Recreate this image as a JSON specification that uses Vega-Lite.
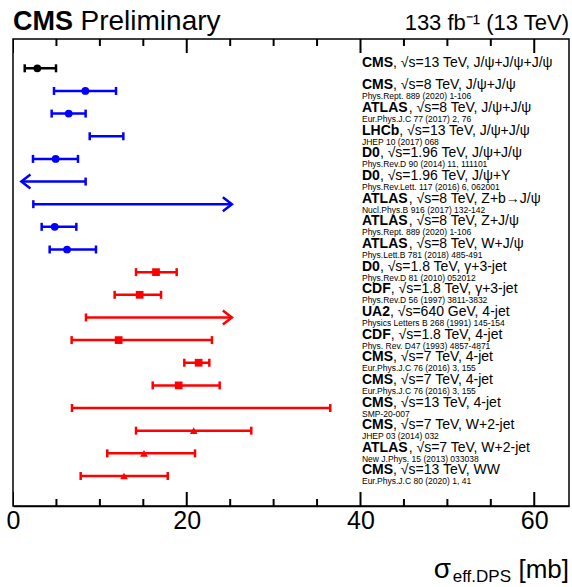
{
  "$schema": "https://vega.github.io/schema/vega-lite/v6.json",
  "width": 556,
  "height": 467,
  "autosize": {"type": "none"},
  "padding": {"left": 13, "top": 39, "right": 3, "bottom": 81},
  "background": "white",
  "config": {"view": {"stroke": "black", "strokeWidth": 1.5}, "font": "Liberation Sans"},
  "datasets": {
    "m": [
      {"row": 1, "name": "CMS", "rest": ", √s=13 TeV, J/ψ+J/ψ+J/ψ", "ref": "", "cat": "triple", "val": 2.8, "lo": 1.35, "hi": 4.95, "limit": ""},
      {"row": 2, "name": "CMS", "rest": ", √s=8 TeV, J/ψ+J/ψ", "ref": "Phys.Rept. 889 (2020) 1-106", "cat": "quarkonia", "val": 8.33, "lo": 4.72, "hi": 11.86, "limit": ""},
      {"row": 3, "name": "ATLAS", "rest": ", √s=8 TeV, J/ψ+J/ψ", "ref": "Eur.Phys.J.C 77 (2017) 2, 76", "cat": "quarkonia", "val": 6.41, "lo": 4.45, "hi": 8.36, "limit": ""},
      {"row": 4, "name": "LHCb", "rest": ", √s=13 TeV, J/ψ+J/ψ", "ref": "JHEP 10 (2017) 068", "cat": "quarkonia", "val": null, "lo": 8.83, "hi": 12.7, "limit": ""},
      {"row": 5, "name": "D0", "rest": ", √s=1.96 TeV, J/ψ+J/ψ", "ref": "Phys.Rev.D 90 (2014) 11, 111101", "cat": "quarkonia", "val": 4.91, "lo": 2.3, "hi": 7.48, "limit": ""},
      {"row": 6, "name": "D0", "rest": ", √s=1.96 TeV, J/ψ+Υ", "ref": "Phys.Rev.Lett. 117 (2016) 6, 062001", "cat": "quarkonia", "val": null, "lo": 0.96, "hi": 8.36, "limit": "upper"},
      {"row": 7, "name": "ATLAS", "rest": ", √s=8 TeV, Z+b→J/ψ", "ref": "Nucl.Phys.B 916 (2017) 132-142", "cat": "quarkonia", "val": null, "lo": 2.34, "hi": 25.2, "limit": "lower"},
      {"row": 8, "name": "ATLAS", "rest": ", √s=8 TeV, Z+J/ψ", "ref": "Phys.Rept. 889 (2020) 1-106", "cat": "quarkonia", "val": 4.8, "lo": 3.3, "hi": 7.29, "limit": ""},
      {"row": 9, "name": "ATLAS", "rest": ", √s=8 TeV, W+J/ψ", "ref": "Phys.Lett.B 781 (2018) 485-491", "cat": "quarkonia", "val": 6.22, "lo": 4.22, "hi": 9.55, "limit": ""},
      {"row": 10, "name": "D0", "rest": ", √s=1.8 TeV, γ+3-jet", "ref": "Phys.Rev.D 81 (2010) 052012", "cat": "jets", "val": 16.46, "lo": 14.16, "hi": 18.84, "limit": ""},
      {"row": 11, "name": "CDF", "rest": ", √s=1.8 TeV, γ+3-jet", "ref": "Phys.Rev.D 56 (1997) 3811-3832", "cat": "jets", "val": 14.58, "lo": 11.7, "hi": 17.04, "limit": ""},
      {"row": 12, "name": "UA2", "rest": ", √s=640 GeV, 4-jet", "ref": "Physics Letters B 268 (1991) 145-154", "cat": "jets", "val": null, "lo": 8.4, "hi": 25.2, "limit": "lower"},
      {"row": 13, "name": "CDF", "rest": ", √s=1.8 TeV, 4-jet", "ref": "Phys. Rev. D47 (1993) 4857-4871", "cat": "jets", "val": 12.16, "lo": 6.75, "hi": 22.9, "limit": ""},
      {"row": 14, "name": "CMS", "rest": ", √s=7 TeV, 4-jet", "ref": "Eur.Phys.J.C 76 (2016) 3, 155", "cat": "jets", "val": 21.37, "lo": 19.72, "hi": 22.6, "limit": ""},
      {"row": 15, "name": "CMS", "rest": ", √s=7 TeV, 4-jet", "ref": "Eur.Phys.J.C 76 (2016) 3, 155", "cat": "jets", "val": 19.07, "lo": 16.08, "hi": 23.79, "limit": ""},
      {"row": 16, "name": "CMS", "rest": ", √s=13 TeV, 4-jet", "ref": "SMP-20-007", "cat": "jets", "val": null, "lo": 6.79, "hi": 36.52, "limit": ""},
      {"row": 17, "name": "CMS", "rest": ", √s=7 TeV, W+2-jet", "ref": "JHEP 03 (2014) 032", "cat": "boson", "val": 20.8, "lo": 14.16, "hi": 27.43, "limit": ""},
      {"row": 18, "name": "ATLAS", "rest": ", √s=7 TeV, W+2-jet", "ref": "New J.Phys. 15 (2013) 033038", "cat": "boson", "val": 15.08, "lo": 10.85, "hi": 20.95, "limit": ""},
      {"row": 19, "name": "CMS", "rest": ", √s=13 TeV, WW", "ref": "Eur.Phys.J.C 80 (2020) 1, 41", "cat": "boson", "val": 12.78, "lo": 7.79, "hi": 17.81, "limit": ""}
    ],
    "axisticks": [
      {"v": 0, "kind": "major"}, {"v": 5, "kind": "minor"}, {"v": 10, "kind": "minor"}, {"v": 15, "kind": "minor"},
      {"v": 20, "kind": "major"}, {"v": 25, "kind": "minor"}, {"v": 30, "kind": "minor"}, {"v": 35, "kind": "minor"},
      {"v": 40, "kind": "major"}, {"v": 45, "kind": "minor"}, {"v": 50, "kind": "minor"}, {"v": 55, "kind": "minor"},
      {"v": 60, "kind": "major"}
    ]
  },
  "data": {"name": "m"},
  "layer": [
    {
      "mark": {"type": "rule", "strokeWidth": 2.5},
      "encoding": {
        "x": {"field": "lo", "type": "quantitative", "scale": {"domain": [0, 64], "nice": false, "zero": false},
          "axis": {"orient": "bottom", "values": [0, 20, 40, 60], "ticks": false,
            "domainColor": "black", "domainWidth": 1.5,
            "labelFontSize": 25, "labelFont": "Liberation Sans", "labelColor": "black", "labelPadding": 2,
            "labelFlush": false, "labelOverlap": false, "grid": false, "title": null}},
        "x2": {"field": "hi"},
        "y": {"field": "row", "type": "quantitative", "scale": {"domain": [-0.294, 20.325], "reverse": true, "nice": false, "zero": false}, "axis": null},
        "color": {"field": "cat", "type": "nominal", "scale": {"domain": ["triple", "quarkonia", "jets", "boson"], "range": ["black", "#0000ff", "#ff0000", "#ff0000"]}, "legend": null}
      }
    },
    {
      "data": {"name": "axisticks"},
      "transform": [{"filter": "datum.kind === 'major'"}],
      "mark": {"type": "tick", "orient": "vertical", "size": 28, "thickness": 2, "color": "black", "opacity": 1, "clip": true},
      "encoding": {"x": {"field": "v", "type": "quantitative"}, "y": {"datum": 20.325}}
    },
    {
      "data": {"name": "axisticks"},
      "transform": [{"filter": "datum.kind === 'major'"}],
      "mark": {"type": "tick", "orient": "vertical", "size": 28, "thickness": 2, "color": "black", "opacity": 1, "clip": true},
      "encoding": {"x": {"field": "v", "type": "quantitative"}, "y": {"datum": -0.294}}
    },
    {
      "data": {"name": "axisticks"},
      "transform": [{"filter": "datum.kind === 'minor'"}],
      "mark": {"type": "tick", "orient": "vertical", "size": 14, "thickness": 2, "color": "black", "opacity": 1, "clip": true},
      "encoding": {"x": {"field": "v", "type": "quantitative"}, "y": {"datum": 20.325}}
    },
    {
      "data": {"name": "axisticks"},
      "transform": [{"filter": "datum.kind === 'minor'"}],
      "mark": {"type": "tick", "orient": "vertical", "size": 14, "thickness": 2, "color": "black", "opacity": 1, "clip": true},
      "encoding": {"x": {"field": "v", "type": "quantitative"}, "y": {"datum": -0.294}}
    },
    {
      "transform": [{"filter": "datum.limit !== 'upper'"}],
      "mark": {"type": "tick", "orient": "vertical", "size": 8, "thickness": 2.5, "opacity": 1},
      "encoding": {
        "x": {"field": "lo", "type": "quantitative"},
        "y": {"field": "row", "type": "quantitative"},
        "color": {"field": "cat", "type": "nominal", "legend": null}
      }
    },
    {
      "transform": [{"filter": "datum.limit !== 'lower'"}],
      "mark": {"type": "tick", "orient": "vertical", "size": 8, "thickness": 2.5, "opacity": 1},
      "encoding": {
        "x": {"field": "hi", "type": "quantitative"},
        "y": {"field": "row", "type": "quantitative"},
        "color": {"field": "cat", "type": "nominal", "legend": null}
      }
    },
    {
      "transform": [{"filter": "datum.limit === 'upper'"}],
      "mark": {"type": "point", "filled": false, "shape": "M 1.3 -1 L 0 0 L 1.3 1", "size": 196, "strokeWidth": 2.5, "opacity": 1},
      "encoding": {
        "x": {"field": "lo", "type": "quantitative"},
        "y": {"field": "row", "type": "quantitative"},
        "color": {"field": "cat", "type": "nominal", "legend": null}
      }
    },
    {
      "transform": [{"filter": "datum.limit === 'lower'"}],
      "mark": {"type": "point", "filled": false, "shape": "M -1.3 -1 L 0 0 L -1.3 1", "size": 196, "strokeWidth": 2.5, "opacity": 1},
      "encoding": {
        "x": {"field": "hi", "type": "quantitative"},
        "y": {"field": "row", "type": "quantitative"},
        "color": {"field": "cat", "type": "nominal", "legend": null}
      }
    },
    {
      "transform": [{"filter": "datum.val !== null"}],
      "mark": {"type": "point", "filled": true, "opacity": 1},
      "encoding": {
        "x": {"field": "val", "type": "quantitative"},
        "y": {"field": "row", "type": "quantitative"},
        "color": {"field": "cat", "type": "nominal", "legend": null},
        "shape": {"field": "cat", "type": "nominal", "scale": {"domain": ["triple", "quarkonia", "jets", "boson"], "range": ["circle", "circle", "square", "triangle-up"]}, "legend": null},
        "size": {"field": "cat", "type": "nominal", "scale": {"domain": ["triple", "quarkonia", "jets", "boson"], "range": [60, 60, 70, 60]}, "legend": null}
      }
    },
    {
      "mark": {"type": "text", "align": "left", "baseline": "alphabetic", "fontSize": 14, "fontWeight": "bold", "dy": -1.5, "color": "black"},
      "encoding": {
        "x": {"datum": 40.17},
        "y": {"field": "row", "type": "quantitative"},
        "text": {"field": "name"}
      }
    },
    {
      "mark": {"type": "text", "align": "left", "baseline": "alphabetic", "fontSize": 14, "dy": -1.5, "color": "black",
        "dx": {"expr": "datum.name === 'ATLAS' ? 46.7 : datum.name === 'LHCb' ? 37.3 : datum.name === 'D0' ? 17.9 : datum.name === 'CDF' ? 28.8 : datum.name === 'UA2' ? 28 : 31.1"}},
      "encoding": {
        "x": {"datum": 40.17},
        "y": {"field": "row", "type": "quantitative"},
        "text": {"field": "rest"}
      }
    },
    {
      "mark": {"type": "text", "align": "left", "baseline": "alphabetic", "fontSize": 8.5, "dy": 8.5, "color": "black"},
      "encoding": {
        "x": {"datum": 40.17},
        "y": {"field": "row", "type": "quantitative"},
        "text": {"field": "ref"}
      }
    },
    {
      "data": {"values": [{}]},
      "mark": {"type": "text", "text": "CMS", "align": "left", "baseline": "alphabetic", "fontSize": 27, "fontWeight": "bold", "color": "black"},
      "encoding": {"x": {"datum": 0}, "y": {"datum": -0.69}}
    },
    {
      "data": {"values": [{}]},
      "mark": {"type": "text", "text": "Preliminary", "align": "left", "baseline": "alphabetic", "fontSize": 28, "dx": 67.5, "color": "black"},
      "encoding": {"x": {"datum": 0}, "y": {"datum": -0.69}}
    },
    {
      "data": {"values": [{}]},
      "mark": {"type": "text", "text": "133 fb⁻¹ (13 TeV)", "align": "right", "baseline": "alphabetic", "fontSize": 22, "color": "black"},
      "encoding": {"x": {"datum": 64}, "y": {"datum": -0.69}}
    },
    {
      "data": {"values": [{}]},
      "mark": {"type": "text", "text": "[mb]", "align": "right", "baseline": "alphabetic", "fontSize": 26, "color": "black"},
      "encoding": {"x": {"datum": 64}, "y": {"datum": 23.5}}
    },
    {
      "data": {"values": [{}]},
      "mark": {"type": "text", "text": "eff.DPS", "align": "right", "baseline": "alphabetic", "fontSize": 17, "dx": -58, "dy": 4, "color": "black"},
      "encoding": {"x": {"datum": 64}, "y": {"datum": 23.5}}
    },
    {
      "data": {"values": [{}]},
      "mark": {"type": "text", "text": "σ", "align": "right", "baseline": "alphabetic", "fontSize": 28, "dx": -118, "color": "black"},
      "encoding": {"x": {"datum": 64}, "y": {"datum": 23.5}}
    }
  ]
}
